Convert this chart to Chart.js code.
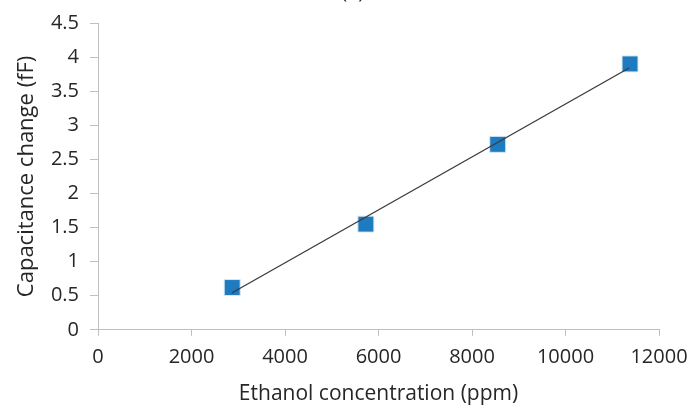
<!DOCTYPE html>
<html>
<head>
<meta charset="utf-8">
<title>Capacitance change vs ethanol concentration</title>
<script src="https://cdn.jsdelivr.net/npm/chart.js@4.4.1/dist/chart.umd.min.js"></script>
<style>
  html, body { margin: 0; padding: 0; background: #fff; overflow: hidden; }
  #wrap { position: absolute; left: 0; top: -20px; width: 692px; height: 427px; }
</style>
</head>
<body>
<div id="wrap"><canvas id="chart"></canvas></div>
<script>
'use strict';

/* ── Data ── */
const concentrationPpm = [2870, 5730, 8550, 11380];
const capacitanceFf    = [0.62, 1.55, 2.72, 3.90];

/* linear trendline endpoints */
const trendPpm = [2860, 11360];
const trendFf  = [0.54, 3.84];

const xTickMax = 12000, xTickStep = 2000;
const yTickMax = 4.5,   yTickStep = 0.5;

/* ── Styling ── */
const FONT      = "'Open Sans', 'Liberation Sans', sans-serif";
const AXIS_GREY = '#bfbfbf';
const TEXT      = '#262626';
const MARKER    = '#1f7bbf';

const toPoints = (xs, ys) => xs.map((x, i) => ({ x, y: ys[i] }));
const plainNum = v => String(v);

new Chart(document.getElementById('chart'), {
  type: 'scatter',
  data: {
    datasets: [
      {
        label: 'Linear fit',
        data: toPoints(trendPpm, trendFf),
        showLine: true,
        borderColor: '#3a3a3a',
        borderWidth: 1.3,
        pointRadius: 0,
        order: 0
      },
      {
        label: 'Capacitance change',
        data: toPoints(concentrationPpm, capacitanceFf),
        pointStyle: 'rect',
        pointRadius: 11.3,
        backgroundColor: MARKER,
        borderColor: '#d8e8f4',
        borderWidth: 1,
        order: 1
      }
    ]
  },
  options: {
    responsive: true,
    maintainAspectRatio: false,
    animation: false,
    layout: { padding: { left: 13.5, right: 0, top: 0, bottom: 0 } },
    plugins: {
      legend: { display: false },
      tooltip: { enabled: false },
      title: {
        display: true,
        text: '(a)',
        color: TEXT,
        font: { family: FONT, size: 20, weight: 'normal' },
        padding: { top: 0, bottom: 19 }
      }
    },
    scales: {
      x: {
        type: 'linear',
        min: 0,
        max: xTickMax,
        /* room for half of the "12000" label only, no extra tick padding */
        afterFit: scale => { scale.paddingRight = 33; },
        grid: { drawOnChartArea: false, drawTicks: true, tickLength: 6, color: AXIS_GREY },
        border: { display: true, color: AXIS_GREY, width: 1 },
        ticks: { stepSize: xTickStep, color: TEXT, padding: 9, callback: plainNum,
                 font: { family: FONT, size: 20 } },
        title: {
          display: true,
          text: 'Ethanol concentration (ppm)',
          color: TEXT,
          font: { family: FONT, size: 21 },
          padding: { top: 4, bottom: 0 }
        }
      },
      y: {
        type: 'linear',
        min: 0,
        max: yTickMax,
        grid: { drawOnChartArea: false, drawTicks: true, tickLength: 8, color: AXIS_GREY },
        border: { display: true, color: AXIS_GREY, width: 1 },
        ticks: { stepSize: yTickStep, color: TEXT, padding: 11, callback: plainNum,
                 font: { family: FONT, size: 20 } },
        title: {
          display: true,
          text: 'Capacitance change (fF)',
          color: TEXT,
          font: { family: FONT, size: 22 },
          padding: { top: 0, bottom: 0 }
        }
      }
    }
  }
});
</script>
</body>
</html>
